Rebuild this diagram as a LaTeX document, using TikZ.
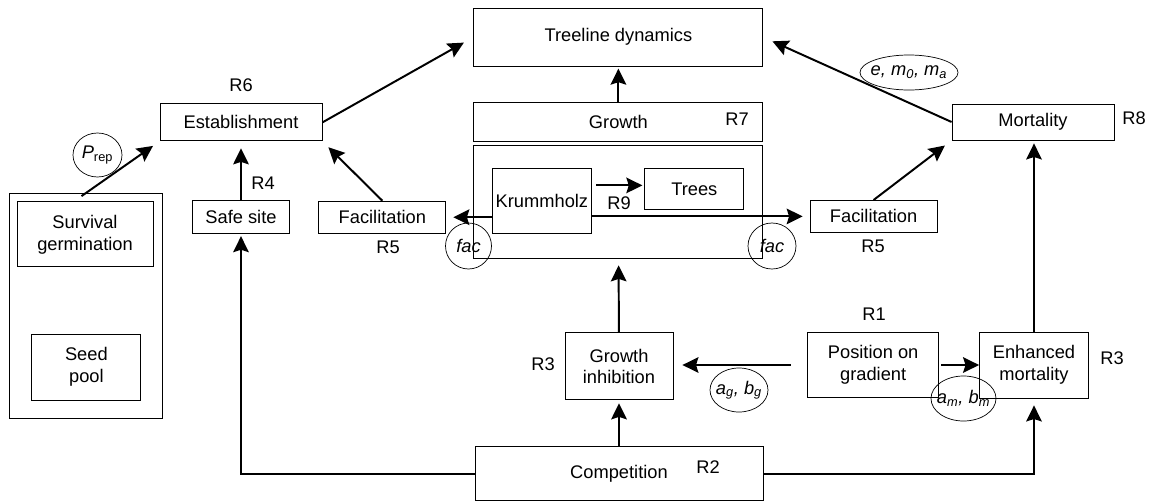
\documentclass[tikz,border=0pt]{standalone}
\usepackage{fontspec}
\setmainfont{Liberation Sans}
\usetikzlibrary{arrows.meta,positioning,shapes.geometric}

\begin{document}
\begin{tikzpicture}[
    font=\fontsize{13}{15.5}\selectfont,
    box/.style={draw,line width=0.6pt,align=center,inner sep=2pt},
    arr/.style={-{Stealth[length=4mm,width=3.9mm,inset=0.6mm]},line width=1.4pt},
    parm/.style={draw,ellipse,line width=0.5pt,inner sep=0pt}
  ]
    \useasboundingbox (0,0) rectangle (29,-12.525);
    % middle column
    \node[box,minimum width=7.225cm,minimum height=1.45cm] (tree) at (15.46,-0.93) {Treeline dynamics};
    \node[box,below=0.875cm of tree,minimum width=7.225cm,minimum height=0.975cm] (growth) {Growth};
    \node[box,below=0.1cm of growth,minimum width=7.225cm,minimum height=2.825cm] (woody) {};
    \node[box,below right=0.575cm and 0.475cm of woody.north west,minimum width=2.425cm,minimum height=1.625cm] (krum) {Krummholz};
    \node[box,below right=0cm and 1.325cm of krum.north east,minimum width=2.475cm,minimum height=1.025cm] (trees) {Trees};
    \node[box,minimum width=2.7cm,minimum height=1.675cm] (inhib) at (15.475,-9.16) {Growth\\inhibition};
    \node[box,below=1.15cm of inhib,minimum width=7.2cm,minimum height=1.35cm] (comp) {Competition};
    % left side
    \node[box,minimum width=3.175cm,minimum height=0.8cm] (facL) at (9.56,-5.43) {Facilitation};
    \node[box,minimum width=4.05cm,minimum height=0.925cm] (estab) at (6.025,-3.06) {Establishment};
    \node[box,below=1.475cm of estab,minimum width=2.425cm,minimum height=0.825cm] (safe) {Safe site};
    \node[box,minimum width=3.825cm,minimum height=5.625cm] (pool) at (2.16,-7.64) {};
    \node[box,minimum width=3.4cm,minimum height=1.625cm] (surv) at (2.125,-5.86) {Survival\\germination};
    \node[box,minimum width=2.725cm,minimum height=1.65cm] (seed) at (2.16,-9.175) {Seed\\pool};
    % right side
    \node[box,minimum width=3.175cm,minimum height=0.8cm] (facR) at (21.84,-5.41) {Facilitation};
    \node[box,minimum width=4.05cm,minimum height=0.9cm] (mort) at (25.825,-3.05) {Mortality};
    \node[box,minimum width=2.725cm,minimum height=1.65cm] (enh) at (25.85,-9.125) {Enhanced\\mortality};
    \node[box,left=1.0cm of enh,minimum width=3.275cm,minimum height=1.625cm] (pos) {Position on\\gradient};
    % parameters
    \node[parm,minimum width=1.225cm,minimum height=1.1cm,label={center:{\itshape P}\textsubscript{rep}}] (prep) at (2.4375,-3.875) {};
    \node[parm,minimum width=1.15cm,minimum height=1.15cm,label={center:\itshape fac}] (facLc) at (11.7125,-6.15) {};
    \node[parm,minimum width=1.2cm,minimum height=1.15cm,label={center:\itshape fac}] (facRc) at (19.3,-6.15) {};
    \node[parm,minimum width=1.45cm,minimum height=1.1cm,label={center:\itshape a\textsubscript{g}, b\textsubscript{g}}] (agbg) at (18.475,-9.75) {};
    \node[parm,minimum width=1.625cm,minimum height=1.125cm,label={center:\itshape a\textsubscript{m}, b\textsubscript{m}}] (ambm) at (24.0875,-9.9625) {};
    \node[parm,minimum width=2.45cm,minimum height=0.875cm,label={center:\itshape e, m\textsubscript{0}, m\textsubscript{a}}] (emm) at (22.725,-1.8125) {};
    % R labels
    \node (r1) at (21.85,-7.85) {R1};
    \node (r2) at (17.7,-11.675) {R2};
    \node (r3a) at (13.575,-9.1) {R3};
    \node (r3b) at (27.8,-8.95) {R3};
    \node (r4) at (6.575,-4.575) {R4};
    \node (r5a) at (9.7,-6.175) {R5};
    \node (r5b) at (21.825,-6.15) {R5};
    \node (r6) at (6.025,-2.125) {R6};
    \node (r7) at (18.425,-2.975) {R7};
    \node (r8) at (28.35,-2.95) {R8};
    \node (r9) at (15.475,-5.075) {R9};
    % connectors
    \draw[arr,shorten <=-0.15cm,shorten >=0.2cm] (pool.north) -- (estab.south west);
    \draw[arr,shorten >=0.175cm] (safe) -- (estab);
    \draw[arr,shorten >=0.21cm] (facL.north) -- (estab.south east);
    \draw[arr,shorten >=0.275cm] (estab.east) -- (tree.west);
    \draw[arr,shorten >=0.05cm] (growth) -- (tree);
    \draw[arr,shorten >=0.25cm] (mort.west) -- (tree.east);
    \draw[arr,shorten >=0.21cm] (facR.north) -- (mort.south west);
    \draw[arr,shorten >=0.075cm] (enh.north) -- (enh.north |- mort.south);
    \draw[arr,shorten <=0.125cm,shorten >=0.05cm] ([yshift=0.1cm]trees.west -| krum.east) -- ([yshift=0.1cm]trees.west);
    \draw[arr,shorten >=0.175cm] (krum.west |- facL.east) -- (facL.east);
    \draw[arr,shorten >=0.175cm] (krum.east |- facR.west) -- (facR.west);
    \draw[arr,shorten <=0.41cm,shorten >=0.225cm] (pos.west) -- (pos.west -| inhib.east);
    \draw[arr,shorten <=0.05cm] (pos.east) -- (enh.west);
    \draw[arr,shorten >=0.075cm] (comp) -- (inhib);
    \draw[arr,shorten >=0.15cm] (inhib) -- (woody);
    \draw[arr,shorten >=0.05cm] (comp.west) -| (safe.south);
    \draw[arr,shorten >=0.175cm] (comp.east) -| (enh.south);
  \end{tikzpicture}
\end{document}
